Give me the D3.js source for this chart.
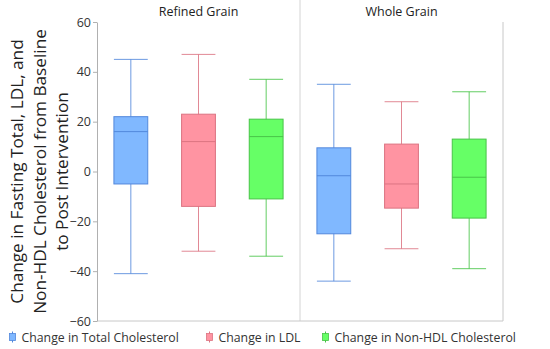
<!DOCTYPE html>
<html>
<head>
<meta charset="utf-8">
<script src="https://cdn.jsdelivr.net/npm/d3@7"></script>
<style>
  body { margin: 0; background: #fff; }
  text { font-family: "Open Sans", "Noto Sans", sans-serif; fill: #222; }
</style>
</head>
<body>
<svg id="chart" width="550" height="349"></svg>
<script>
// data
const panels = ['Refined Grain', 'Whole Grain'];
const seriesNames = ['Change in Total Cholesterol', 'Change in LDL', 'Change in Non-HDL Cholesterol'];
const yTicks = [60, 40, 20, 0, -20, -40, -60];
// [low whisker, Q1, median, Q3, high whisker] per panel
const totalChol = [[-41, -5, 16, 22, 45], [-44, -25, -1.7, 9.5, 35]];
const ldl = [[-32, -14, 12, 23, 47], [-31, -14.7, -5, 11, 28]];
const nonHdl = [[-34, -11, 14, 21, 37], [-39, -18.7, -2.3, 13, 32]];

const fills = ['#80b8ff', '#ff94a2', '#66ff66'];
const strokes = ['#5288dc', '#dc7482', '#48c448'];

const seriesData = [totalChol, ldl, nonHdl];
const boxes = [];
panels.forEach((p, pi) => {
    seriesData.forEach((s, si) => {
        const v = s[pi];
        boxes.push({panel: p, series: seriesNames[si], si: si, lo: v[0], q1: v[1], med: v[2], q3: v[3], hi: v[4]});
    });
});

const margin = {top: 22, right: 47, bottom: 28, left: 97};
const width = 550 - margin.left - margin.right;
const height = 349 - margin.top - margin.bottom;

const svg = d3.select('#chart');
const g = svg.append('g').attr('transform', `translate(${margin.left},${margin.top})`);

const yScale = d3.scaleLinear().domain([-60, 60]).range([height, 0]);
const xPanel = d3.scaleBand().domain(panels).range([0, width]);
const xSeries = d3.scaleBand().domain(seriesNames).range([0, xPanel.bandwidth()]);
const boxW = xSeries.bandwidth() * 0.5;

// frame lines
g.append('line').attr('x1', xPanel('Whole Grain')).attr('x2', xPanel('Whole Grain'))
    .attr('y1', -margin.top).attr('y2', height).attr('stroke', '#d4d4d4');
g.append('line').attr('x1', width).attr('x2', width)
    .attr('y1', 0).attr('y2', height).attr('stroke', '#c8c8c8');
g.append('line').attr('x1', 0).attr('x2', width)
    .attr('y1', height).attr('y2', height).attr('stroke', '#c8c8c8');

// y axis
const yAxis = g.append('g')
    .call(d3.axisLeft(yScale).tickValues(yTicks).tickSize(4).tickSizeOuter(0).tickPadding(2));
yAxis.select('.domain').attr('stroke', '#b0b0b0');
yAxis.selectAll('.tick line').attr('stroke', '#b0b0b0');
yAxis.selectAll('.tick text')
    .attr('font-family', null)
    .attr('font-size', 12.5)
    .style('fill', '#333');

// panel titles
g.selectAll('.panel-title')
    .data(panels)
    .enter().append('text')
    .attr('class', 'panel-title')
    .attr('x', (d) => xPanel(d) + xPanel.bandwidth() / 2)
    .attr('y', -6)
    .attr('text-anchor', 'middle')
    .attr('font-size', 12.5)
    .text((d) => d);

// boxes
const bg = g.selectAll('.box')
    .data(boxes)
    .enter().append('g')
    .attr('class', 'box')
    .attr('transform', (d) => `translate(${xPanel(d.panel) + xSeries(d.series) + xSeries.bandwidth() / 2},0)`);

bg.append('line')
    .attr('x1', 0).attr('x2', 0)
    .attr('y1', (d) => yScale(d.hi)).attr('y2', (d) => yScale(d.lo))
    .attr('stroke', (d) => strokes[d.si]).attr('stroke-opacity', 0.85);
['hi', 'lo'].forEach((k) => {
    bg.append('line')
        .attr('x1', -boxW / 2).attr('x2', boxW / 2)
        .attr('y1', (d) => yScale(d[k])).attr('y2', (d) => yScale(d[k]))
        .attr('stroke', (d) => strokes[d.si]).attr('stroke-opacity', 0.85);
});
bg.append('rect')
    .attr('x', -boxW / 2).attr('width', boxW)
    .attr('y', (d) => yScale(d.q3))
    .attr('height', (d) => yScale(d.q1) - yScale(d.q3))
    .attr('fill', (d) => fills[d.si])
    .attr('stroke', (d) => strokes[d.si]);
bg.append('line')
    .attr('x1', -boxW / 2).attr('x2', boxW / 2)
    .attr('y1', (d) => yScale(d.med)).attr('y2', (d) => yScale(d.med))
    .attr('stroke', (d) => strokes[d.si]);

// y axis title
const yTitle = svg.append('text')
    .attr('transform', `translate(17,${margin.top + height / 2}) rotate(-90)`)
    .attr('text-anchor', 'middle')
    .attr('font-size', 17.2);
['Change in Fasting Total, LDL, and', 'Non-HDL Cholesterol from Baseline', 'to Post Intervention']
    .forEach((t, i) => {
        yTitle.append('tspan').attr('x', 0).attr('dy', i === 0 ? 6 : 22.5).text(t);
    });

// legend
const legendX = [9, 206, 322];
const legend = svg.selectAll('.legend')
    .data(seriesNames)
    .enter().append('g')
    .attr('class', 'legend')
    .attr('transform', (d, i) => `translate(${legendX[i]},337)`);
legend.append('line')
    .attr('x1', 3.5).attr('x2', 3.5).attr('y1', -5.5).attr('y2', 5.5)
    .attr('stroke', (d, i) => strokes[i]);
legend.append('rect')
    .attr('x', 0.5).attr('y', -3.5).attr('width', 6).attr('height', 7)
    .attr('fill', (d, i) => fills[i])
    .attr('stroke', (d, i) => strokes[i]).attr('stroke-width', 0.8);
legend.append('text')
    .attr('x', 12.5).attr('y', 4.5)
    .attr('font-size', 12.3)
    .style('fill', '#333')
    .text((d) => d);
</script>
</body>
</html>
